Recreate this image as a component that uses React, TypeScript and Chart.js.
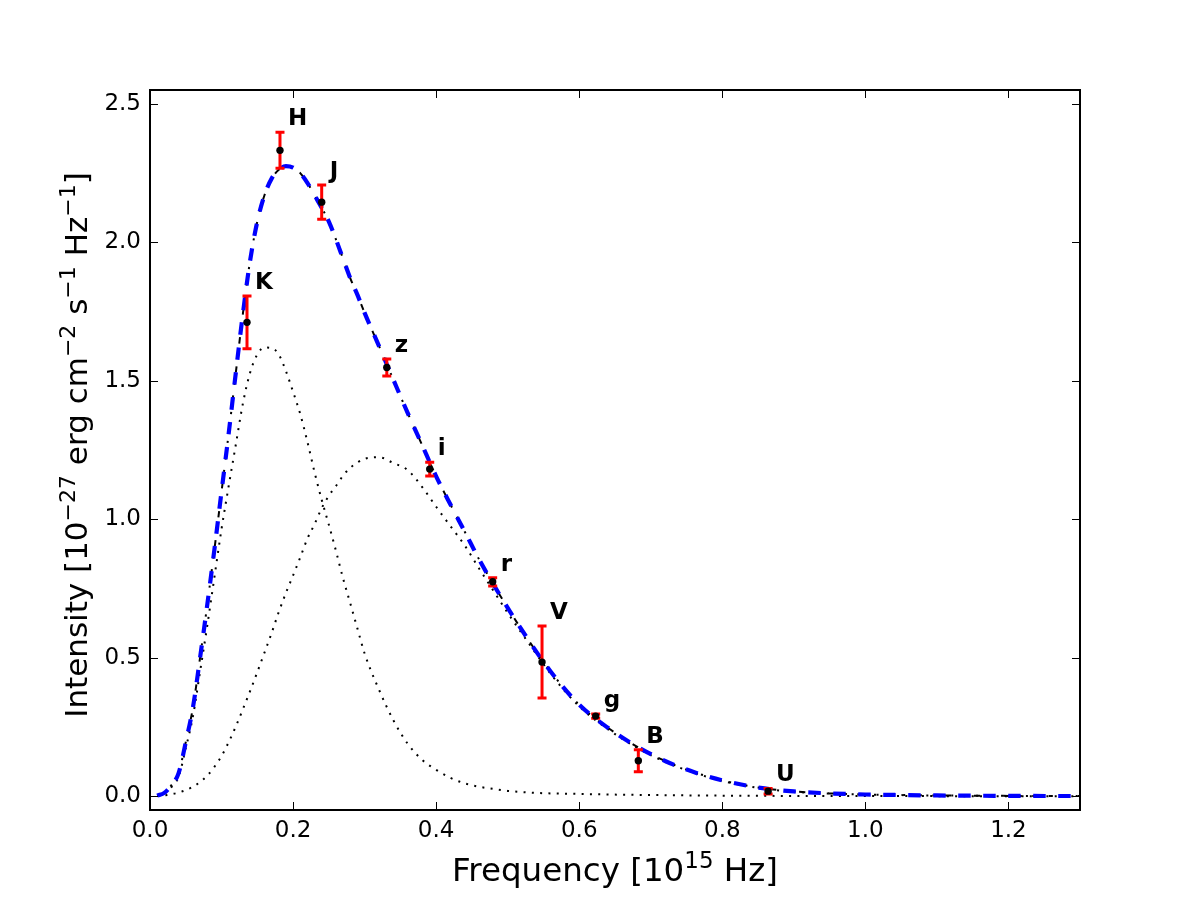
import React, { useEffect, useRef } from 'react';
import { Chart, registerables } from 'chart.js';

Chart.register(...registerables);

// Photometric bands: frequency [1e15 Hz], intensity [1e-27 erg cm^-2 s^-1 Hz^-1], 1-sigma error
const bandNames = ['K', 'H', 'J', 'z', 'i', 'r', 'V', 'g', 'B', 'U'];
const bandFreq = [0.1356, 0.1817, 0.24, 0.331, 0.391, 0.479, 0.548, 0.623, 0.6826, 0.864];
const bandFlux = [1.711, 2.332, 2.145, 1.548, 1.181, 0.774, 0.484, 0.289, 0.128, 0.018];
const bandErr = [0.095, 0.065, 0.062, 0.031, 0.025, 0.015, 0.13, 0.008, 0.04, 0.01];

// Model curves sampled on a common frequency grid
const modelFreq = [
  0.01, 0.02, 0.03, 0.04, 0.05, 0.06, 0.07, 0.08, 0.09, 0.1,
  0.11, 0.12, 0.13, 0.14, 0.15, 0.16, 0.17, 0.18, 0.19, 0.2,
  0.21, 0.22, 0.23, 0.24, 0.25, 0.26, 0.27, 0.28, 0.29, 0.3,
  0.32, 0.34, 0.36, 0.38, 0.4, 0.42, 0.44, 0.46, 0.48, 0.5,
  0.53, 0.56, 0.6, 0.64, 0.68, 0.72, 0.76, 0.8, 0.85, 0.9,
  0.95, 1.0, 1.05, 1.1, 1.2, 1.3,
];
const modelTotal = [
  0.002, 0.012, 0.04, 0.083, 0.195, 0.32, 0.5, 0.69, 0.89, 1.1,
  1.31, 1.53, 1.745, 1.935, 2.075, 2.17, 2.23, 2.262, 2.275, 2.27,
  2.25, 2.215, 2.17, 2.125, 2.075, 2.01, 1.94, 1.87, 1.81, 1.745,
  1.626, 1.505, 1.385, 1.27, 1.155, 1.053, 0.955, 0.855, 0.765, 0.68,
  0.56, 0.45, 0.33, 0.247, 0.18, 0.127, 0.087, 0.057, 0.031, 0.017,
  0.01, 0.006, 0.004, 0.0025, 0.001, 0.0004,
];
const modelCool = [
  0.0015, 0.009, 0.033, 0.07, 0.173, 0.288, 0.45, 0.615, 0.79, 0.965,
  1.12, 1.27, 1.42, 1.53, 1.595, 1.62, 1.618, 1.595, 1.535, 1.46,
  1.38, 1.28, 1.17, 1.07, 0.98, 0.885, 0.785, 0.696, 0.605, 0.515,
  0.385, 0.275, 0.19, 0.132, 0.095, 0.066, 0.046, 0.034, 0.026, 0.019,
  0.013, 0.01, 0.008, 0.006, 0.0045, 0.0035, 0.0025, 0.0018, 0.0012, 0.0008,
  0.0005, 0.0003, 0.0002, 0.0001, 0, 0,
];
const modelWarm = [
  0.0005, 0.003, 0.007, 0.013, 0.022, 0.034, 0.051, 0.074, 0.106, 0.145,
  0.195, 0.252, 0.315, 0.38, 0.448, 0.518, 0.589, 0.665, 0.734, 0.797,
  0.862, 0.93, 0.982, 1.04, 1.085, 1.12, 1.158, 1.186, 1.205, 1.218,
  1.224, 1.203, 1.178, 1.118, 1.045, 0.975, 0.905, 0.822, 0.742, 0.662,
  0.55, 0.442, 0.324, 0.242, 0.176, 0.124, 0.085, 0.055, 0.03, 0.016,
  0.0095, 0.0057, 0.0038, 0.0024, 0.001, 0.0004,
];

const xTicks = [0, 0.2, 0.4, 0.6, 0.8, 1.0, 1.2];
const yTicks = [0, 0.5, 1.0, 1.5, 2.0, 2.5];

const FONT = '"DejaVu Sans", "Liberation Sans", sans-serif';
const POINTS = 0;

type Seg = { t: string; sup?: boolean };

const xTitle: Seg[] = [
  { t: 'Frequency [10' },
  { t: '15', sup: true },
  { t: ' Hz]' },
];
const yTitle: Seg[] = [
  { t: 'Intensity [10' },
  { t: '\u221227', sup: true },
  { t: ' erg cm' },
  { t: '\u22122', sup: true },
  { t: ' s' },
  { t: '\u22121', sup: true },
  { t: ' Hz' },
  { t: '\u22121', sup: true },
  { t: ']' },
];

function drawRich(ctx: CanvasRenderingContext2D, segs: Seg[], size: number, cx: number, cy: number, angle: number) {
  const supSize = Math.round(size * 0.7);
  const fontFor = (s: Seg) => `${s.sup ? supSize : size}px ${FONT}`;
  let total = 0;
  const widths = segs.map((s) => {
    ctx.font = fontFor(s);
    const w = ctx.measureText(s.t).width;
    total += w;
    return w;
  });
  ctx.save();
  ctx.translate(cx, cy);
  ctx.rotate(angle);
  ctx.fillStyle = '#000';
  ctx.textAlign = 'left';
  ctx.textBaseline = 'alphabetic';
  let x = -total / 2;
  segs.forEach((s, i) => {
    ctx.font = fontFor(s);
    ctx.fillText(s.t, x, s.sup ? -size * 0.4 : 0);
    x += widths[i];
  });
  ctx.restore();
}

const decorations = {
  id: 'sedDecorations',
  beforeDatasetDraw(chart: any, args: any) {
    if (args.index !== POINTS) return;
    const { ctx, scales } = chart;
    const xs = scales.x;
    const ys = scales.y;
    ctx.save();
    ctx.strokeStyle = '#ff0000';
    ctx.lineWidth = 3;
    ctx.lineCap = 'butt';
    bandFreq.forEach((f, i) => {
      const px = xs.getPixelForValue(f);
      const top = ys.getPixelForValue(bandFlux[i] + bandErr[i]);
      const bot = ys.getPixelForValue(bandFlux[i] - bandErr[i]);
      ctx.beginPath();
      ctx.moveTo(px, top);
      ctx.lineTo(px, bot);
      ctx.moveTo(px - 4.5, top);
      ctx.lineTo(px + 4.5, top);
      ctx.moveTo(px - 4.5, bot);
      ctx.lineTo(px + 4.5, bot);
      ctx.stroke();
    });
    ctx.restore();
  },
  afterDatasetsDraw(chart: any) {
    const { ctx, scales } = chart;
    const xs = scales.x;
    const ys = scales.y;
    ctx.save();
    ctx.fillStyle = '#000';
    ctx.font = `bold 23px ${FONT}`;
    ctx.textAlign = 'left';
    ctx.textBaseline = 'alphabetic';
    bandNames.forEach((name, i) => {
      const px = xs.getPixelForValue(bandFreq[i]);
      const top = ys.getPixelForValue(bandFlux[i] + bandErr[i]);
      ctx.fillText(name, px + 8, top - 7);
    });
    ctx.restore();
  },
  afterDraw(chart: any) {
    const { ctx, chartArea, scales } = chart;
    const { left, right, top, bottom } = chartArea;
    ctx.save();
    // inward tick marks on all four sides
    ctx.strokeStyle = '#000';
    ctx.lineWidth = 1;
    ctx.beginPath();
    xTicks.forEach((v) => {
      const p = Math.round(scales.x.getPixelForValue(v)) + 0.5;
      ctx.moveTo(p, bottom);
      ctx.lineTo(p, bottom - 8);
      ctx.moveTo(p, top);
      ctx.lineTo(p, top + 8);
    });
    yTicks.forEach((v) => {
      const p = Math.round(scales.y.getPixelForValue(v)) + 0.5;
      ctx.moveTo(left, p);
      ctx.lineTo(left + 8, p);
      ctx.moveTo(right, p);
      ctx.lineTo(right - 8, p);
    });
    ctx.stroke();
    // axes frame
    ctx.lineWidth = 2;
    ctx.strokeRect(left, top, right - left, bottom - top);
    ctx.restore();
    drawRich(ctx, xTitle, 32.5, (left + right) / 2, 881, 0);
    drawRich(ctx, yTitle, 31, 87, (top + bottom) / 2 - 5, -Math.PI / 2);
  },
};

export default function App() {
  const canvasRef = useRef<HTMLCanvasElement | null>(null);

  useEffect(() => {
    const canvas = canvasRef.current;
    if (!canvas) return;
    const xy = (xsArr: number[], ysArr: number[]) => xsArr.map((x, i) => ({ x, y: ysArr[i] }));
    const tickFont = { family: FONT, size: 23 };

    const chart = new Chart(canvas, {
      type: 'line',
      data: {
        datasets: [
          {
            label: 'bands',
            data: xy(bandFreq, bandFlux),
            showLine: false,
            pointRadius: 3.7,
            pointBackgroundColor: '#000',
            pointBorderWidth: 0,
            order: 0,
          },
          {
            label: 'total',
            data: xy(modelFreq, modelTotal),
            borderColor: '#0000ff',
            borderWidth: 4.2,
            borderDash: [12.5, 12.5],
            pointRadius: 0,
            cubicInterpolationMode: 'monotone',
            fill: false,
            order: 1,
          },
          {
            label: 'total (dash-dot)',
            data: xy(modelFreq, modelTotal),
            borderColor: '#000',
            borderWidth: 2,
            borderDash: [6.25, 10.4, 2.1, 10.4],
            pointRadius: 0,
            cubicInterpolationMode: 'monotone',
            fill: false,
            order: 2,
          },
          {
            label: 'cool component',
            data: xy(modelFreq, modelCool),
            borderColor: '#000',
            borderWidth: 2,
            borderDash: [2, 6.3],
            pointRadius: 0,
            cubicInterpolationMode: 'monotone',
            fill: false,
            order: 3,
          },
          {
            label: 'warm component',
            data: xy(modelFreq, modelWarm),
            borderColor: '#000',
            borderWidth: 2,
            borderDash: [2, 6.3],
            pointRadius: 0,
            cubicInterpolationMode: 'monotone',
            fill: false,
            order: 4,
          },
        ],
      },
      options: {
        animation: false,
        responsive: false,
        devicePixelRatio: 1,
        events: [],
        layout: { padding: { left: 0, top: 90, right: 120, bottom: 0 } },
        plugins: { legend: { display: false }, tooltip: { enabled: false } },
        scales: {
          x: {
            type: 'linear',
            min: 0,
            max: 1.3,
            grid: { display: false, drawTicks: false },
            border: { display: false },
            afterFit: (s: any) => {
              s.height = 90;
            },
            afterBuildTicks: (s: any) => {
              s.ticks = xTicks.map((value) => ({ value }));
            },
            ticks: {
              font: tickFont,
              color: '#000',
              padding: 7,
              maxRotation: 0,
              autoSkip: false,
              callback: (v: any) => Number(v).toFixed(1),
            },
          },
          y: {
            type: 'linear',
            min: -0.05,
            max: 2.55,
            grid: { display: false, drawTicks: false },
            border: { display: false },
            afterFit: (s: any) => {
              s.width = 150;
            },
            afterBuildTicks: (s: any) => {
              s.ticks = yTicks.map((value) => ({ value }));
            },
            ticks: {
              font: tickFont,
              color: '#000',
              padding: 9,
              autoSkip: false,
              callback: (v: any) => Number(v).toFixed(1),
            },
          },
        },
      },
      plugins: [decorations],
    } as any);

    return () => chart.destroy();
  }, []);

  return (
    <div style={{ position: 'absolute', left: 0, top: 0, width: 1200, height: 900, background: '#fff' }}>
      <canvas ref={canvasRef} width={1200} height={900} style={{ width: 1200, height: 900, display: 'block' }} />
    </div>
  );
}
